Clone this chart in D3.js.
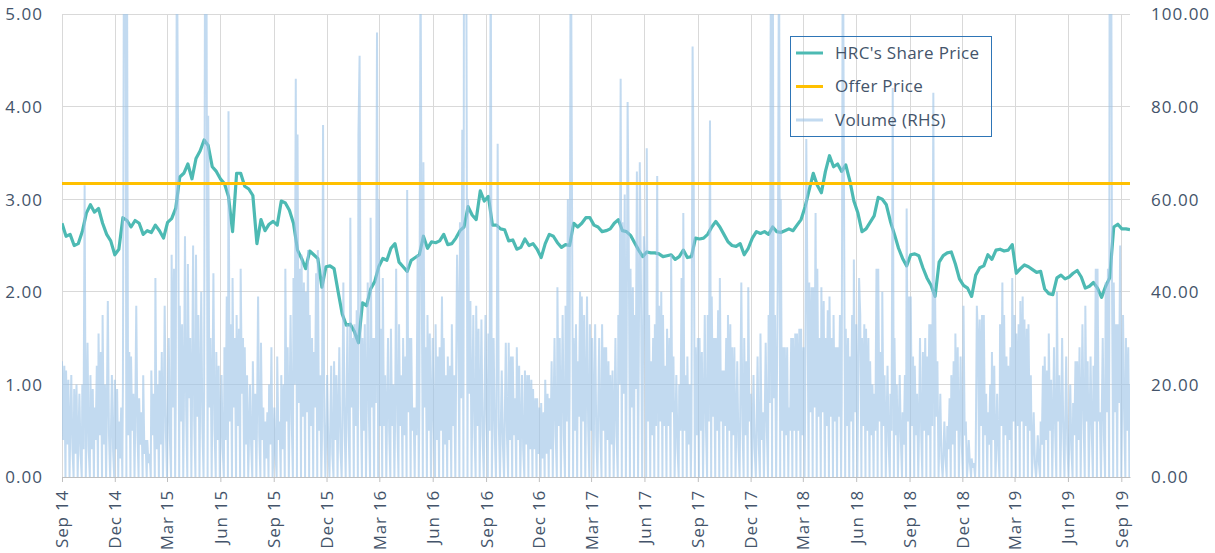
<!DOCTYPE html>
<html><head><meta charset="utf-8">
<script src="https://cdn.jsdelivr.net/npm/d3@7"></script>
<style>
body{margin:0;background:#fff;}
text{font-family:"Open Sans","Segoe UI",Lato,sans-serif;}
</style>
</head><body>
<svg id="chart" width="1215" height="553"></svg>
<script>
// ---------- data ----------
const startDate = "2014-09-01";   // first Monday of the data
const endDate = "2019-09-16";
const tickLabels = ["Sep 14","Dec 14","Mar 15","Jun 15","Sep 15","Dec 15","Mar 16","Jun 16","Sep 16","Dec 16",
  "Mar 17","Jun 17","Sep 17","Dec 17","Mar 18","Jun 18","Sep 18","Dec 18","Mar 19","Jun 19","Sep 19"];
const leftTicks = [0,1,2,3,4,5];
const rightTicks = [0,20,40,60,80,100];
const seriesNames = ["HRC's Share Price","Offer Price","Volume (RHS)"];
const offerPrice = 3.17;

// HRC's share price, one reading per week (Mondays from startDate)
const priceValues = [
2.74,2.60,2.62,2.50,2.52,2.65,2.85,2.94,2.86,2.90,
2.74,2.62,2.55,2.40,2.46,2.80,2.77,2.70,2.77,2.74,
2.62,2.66,2.64,2.72,2.66,2.58,2.75,2.79,2.90,3.24,
3.28,3.38,3.22,3.44,3.52,3.64,3.58,3.35,3.30,3.22,
3.17,3.03,2.65,3.28,3.28,3.14,3.11,3.04,2.52,2.78,
2.66,2.73,2.76,2.72,2.98,2.96,2.88,2.74,2.45,2.36,
2.25,2.44,2.40,2.36,2.05,2.27,2.28,2.25,2.00,1.76,
1.64,1.65,1.57,1.45,1.88,1.85,2.03,2.11,2.27,2.36,
2.34,2.47,2.52,2.32,2.27,2.22,2.34,2.37,2.40,2.60,
2.47,2.54,2.53,2.55,2.62,2.51,2.52,2.58,2.66,2.70,
2.92,2.83,2.78,3.09,2.98,3.03,2.72,2.72,2.68,2.67,
2.55,2.56,2.46,2.48,2.57,2.50,2.52,2.46,2.37,2.52,
2.62,2.60,2.53,2.48,2.51,2.50,2.74,2.70,2.74,2.80,
2.80,2.72,2.70,2.65,2.66,2.68,2.74,2.78,2.66,2.65,
2.61,2.53,2.45,2.38,2.43,2.42,2.42,2.41,2.38,2.39,
2.40,2.35,2.38,2.45,2.37,2.38,2.58,2.57,2.58,2.62,
2.70,2.76,2.70,2.62,2.54,2.50,2.49,2.52,2.40,2.47,
2.58,2.65,2.63,2.65,2.62,2.70,2.65,2.64,2.66,2.68,
2.66,2.72,2.78,2.92,3.10,3.28,3.15,3.07,3.30,3.47,
3.35,3.38,3.30,3.37,3.20,2.98,2.85,2.65,2.68,2.75,
2.82,3.02,3.00,2.94,2.76,2.62,2.47,2.36,2.28,2.40,
2.41,2.39,2.26,2.15,2.07,1.95,2.32,2.39,2.42,2.43,
2.30,2.14,2.07,2.04,1.95,2.18,2.26,2.28,2.40,2.35,
2.45,2.46,2.44,2.45,2.51,2.20,2.25,2.29,2.27,2.24,
2.21,2.22,2.03,1.98,1.97,2.15,2.18,2.14,2.16,2.20,
2.23,2.16,2.04,2.06,2.10,2.04,1.94,2.06,2.15,2.70,
2.73,2.68,2.68,2.67
];

// Volume (RHS): per week Mon, Wed, Fri readings and the Sunday (no trading) zero
const volumeDayOffsets = [0,2,4,6];
const volumeValues = [
25,8,24,0, 23,7,21,0, 8,22,6,0, 19,5,20,0,
6,18,5,0, 20,6,63,0, 7,29,6,0, 22,6,19,0,
15,8,24,0, 31,9,27,0, 35,7,20,0, 10,38,9,0,
7,22,6,0, 21,6,19,0, 12,4,15,0, 20,130,150,0,
115,9,27,0, 26,10,18,0, 9,37,10,0, 17,7,14,0,
22,5,8,0, 8,3,5,0, 23,9,18,0, 43,6,20,0,
23,7,27,0, 9,37,10,0, 10,30,8,0, 48,15,45,0,
16,120,75,0, 37,12,33,0, 13,52,15,0, 46,17,30,0,
14,50,12,0, 48,13,35,0, 14,40,11,0, 18,140,115,0,
78,15,30,0, 13,44,10,0, 27,8,24,0, 7,22,6,0,
28,8,39,0, 79,12,33,0, 43,15,30,0, 35,11,32,0,
45,18,30,0, 28,7,22,0, 6,20,7,0, 25,8,18,0,
10,39,9,0, 29,8,15,0, 12,4,14,0, 20,7,28,0,
3,15,5,0, 26,8,12,0, 22,6,20,0, 45,12,28,0,
11,35,12,0, 43,20,86,0, 74,16,45,0, 48,13,42,0,
40,14,49,0, 35,11,30,0, 27,15,44,0, 49,10,22,0,
8,76,12,0, 6,22,7,0, 7,24,5,0, 25,8,22,0,
10,28,6,0, 8,42,12,0, 12,33,10,0, 56,15,30,0,
33,11,36,0, 74,91,16,0, 30,10,33,0, 11,42,14,0,
56,15,30,0, 30,16,96,0, 60,11,32,0, 43,11,22,0,
10,30,10,0, 32,11,20,0, 10,45,12,0, 33,11,22,0,
30,9,26,0, 62,14,30,0, 30,10,15,0, 15,9,48,0,
15,115,45,0, 68,15,28,0, 35,10,31,0, 9,30,10,0,
33,8,26,0, 28,10,39,0, 30,7,22,0, 26,8,24,0,
33,11,22,0, 16,48,35,0, 55,17,75,0, 130,140,110,0,
60,18,38,0, 12,35,10,0, 37,11,32,0, 11,34,9,0,
11,35,12,0, 31,10,120,0, 10,30,9,0, 15,72,11,0,
8,23,7,0, 10,29,9,0, 29,8,26,0, 26,9,17,0,
28,8,24,0, 7,22,6,0, 23,7,22,0, 22,6,21,0,
19,6,17,0, 17,5,15,0, 16,4,14,0, 21,5,18,0,
17,6,25,0, 10,30,9,0, 41,11,30,0, 12,35,9,0,
37,12,60,0, 18,130,65,0, 30,10,33,0, 25,13,40,0,
39,12,35,0, 12,39,11,0, 33,10,30,0, 11,33,9,0,
11,30,10,0, 33,10,28,0, 28,8,25,0, 22,7,23,0,
10,30,9,0, 35,20,86,0, 55,18,61,0, 16,81,50,0,
45,15,41,0, 35,19,66,0, 20,68,42,0, 16,52,45,0,
71,12,35,0, 25,9,30,0, 33,11,65,0, 37,12,40,0,
35,11,24,0, 32,11,30,0, 48,14,26,0, 7,22,6,0,
20,10,43,0, 57,10,22,0, 26,7,20,0, 10,93,62,0,
28,9,30,0, 30,10,27,0, 10,35,11,0, 35,12,77,0,
39,13,30,0, 30,10,36,0, 43,12,23,0, 23,11,30,0,
35,10,33,0, 28,9,28,0, 8,25,7,0, 12,42,11,0,
30,9,25,0, 41,12,18,0, 7,22,6,0, 8,26,7,0,
31,8,14,0, 9,29,10,0, 35,16,115,0, 130,17,35,0,
15,45,120,0, 60,10,28,0, 28,9,28,0, 15,10,30,0,
30,10,31,0, 31,10,32,0, 32,9,28,0, 14,73,40,0,
42,14,41,0, 41,15,57,0, 45,13,30,0, 41,14,38,0,
30,11,36,0, 39,13,30,0, 35,12,28,0, 28,13,35,0,
16,130,61,0, 32,11,30,0, 26,12,35,0, 47,14,33,0,
13,43,35,0, 30,11,33,0, 32,10,30,0, 25,9,20,0,
18,10,45,0, 45,12,27,0, 40,11,22,0, 8,24,7,0,
18,10,84,0, 30,9,20,0, 8,22,8,0, 14,7,22,0,
58,12,39,0, 39,11,26,0, 24,9,18,0, 8,30,10,0,
27,10,30,0, 26,9,33,0, 33,11,83,0, 40,13,25,0,
6,18,4,0, 3,12,4,0, 11,6,17,0, 22,7,25,0,
31,10,28,0, 8,26,7,0, 37,9,12,0, 2,8,3,0,
4,2,3,0, 4,37,30,0, 34,11,35,0, 35,9,18,0,
14,7,20,0, 27,8,24,0, 4,18,6,0, 33,11,42,0,
35,9,26,0, 24,8,28,0, 43,12,35,0, 31,11,33,0,
38,12,39,0, 34,11,32,0, 33,10,22,0, 4,14,3,0,
2,9,3,0, 12,7,24,0, 26,8,23,0, 31,10,21,0,
8,28,10,0, 40,12,22,0, 8,30,10,0, 9,26,7,0,
6,20,6,0, 16,9,25,0, 25,8,28,0, 11,33,12,0,
37,12,25,0, 8,26,10,0, 24,12,45,0, 45,12,14,0,
10,30,9,0, 42,14,45,0, 130,150,42,0, 42,14,33,0,
33,16,50,0, 10,35,13,0, 30,10,28,0,
20
];

// ---------- chart ----------
const colors = {price:"#4DBAB3", offer:"#FFC000", volume:"#9DC3E6", grid:"#D9D9D9", text:"#44546A", legend:"#2E75B6"};
const plot = {left:62, right:1130, top:14, bottom:477};
const parseDay = d3.utcParse("%Y-%m-%d");
const parseTick = d3.utcParse("%b %y");
const t0 = parseDay(startDate), t1 = parseDay(endDate);

const x = d3.scaleUtc().domain([t0, t1]).range([plot.left, plot.right]);
const yL = d3.scaleLinear().domain([0,5]).range([plot.bottom, plot.top]);
const yR = d3.scaleLinear().domain([0,100]).range([plot.bottom, plot.top]);

const priceData = priceValues.map((v,i)=>({date:d3.utcDay.offset(t0, 7*i), v}));
const volumeData = volumeValues.map((v,i)=>({
  date:d3.utcDay.offset(t0, 7*Math.floor(i/4) + volumeDayOffsets[i%4]), v}));
const tickDates = tickLabels.map(s=>parseTick(s));

const svg = d3.select("#chart");
svg.append("defs").append("clipPath").attr("id","clip")
  .append("rect").attr("x",plot.left).attr("y",plot.top)
  .attr("width",plot.right-plot.left).attr("height",plot.bottom-plot.top);

// gridlines
svg.append("g").selectAll("line").data(leftTicks).join("line")
  .attr("x1",plot.left).attr("x2",plot.right)
  .attr("y1",d=>yL(d)).attr("y2",d=>yL(d))
  .attr("stroke",colors.grid).attr("stroke-width",1).attr("shape-rendering","crispEdges");
svg.append("g").selectAll("line").data(tickDates).join("line")
  .attr("x1",d=>Math.round(x(d))+0.5).attr("x2",d=>Math.round(x(d))+0.5)
  .attr("y1",plot.top).attr("y2",plot.bottom)
  .attr("stroke",colors.grid).attr("stroke-width",1);

// x axis
const xAxis = d3.axisBottom(x).tickValues(tickDates).tickFormat(d3.utcFormat("%b %y")).tickSize(5).tickSizeOuter(0);
const gx = svg.append("g").attr("transform",`translate(0,${plot.bottom})`).call(xAxis);
gx.select(".domain").attr("stroke","#BFBFBF");
gx.selectAll(".tick line").attr("stroke","#BFBFBF");
gx.selectAll(".tick text")
  .attr("transform","rotate(-90)").attr("x",-13).attr("y",0).attr("dy","0.35em")
  .style("text-anchor","end").style("font-size","17px").style("letter-spacing","0.8px")
  .attr("fill",colors.text);

// left axis labels
const gl = svg.append("g").attr("transform",`translate(${plot.left-19},0)`)
  .call(d3.axisLeft(yL).tickValues(leftTicks).tickFormat(d3.format(".2f")).tickSize(0));
gl.select(".domain").remove();
gl.selectAll("text").attr("x",0).attr("dy","0.35em").attr("fill",colors.text)
  .style("font-size","17px").style("letter-spacing","1px");

// right axis labels
const gr = svg.append("g").attr("transform",`translate(${plot.right+21},0)`)
  .call(d3.axisRight(yR).tickValues(rightTicks).tickFormat(d3.format(".2f")).tickSize(0));
gr.select(".domain").remove();
gr.selectAll("text").attr("x",0).attr("dy","0.35em").attr("fill",colors.text)
  .style("font-size","17px").style("letter-spacing","1px");

// price line
svg.append("path").datum(priceData)
  .attr("d", d3.line().x(d=>x(d.date)).y(d=>yL(d.v)))
  .attr("fill","none").attr("stroke",colors.price).attr("stroke-width",3.2)
  .attr("stroke-linejoin","round").attr("clip-path","url(#clip)");

// volume line (RHS)
svg.append("path").datum(volumeData)
  .attr("d", d3.line().x(d=>x(d.date)).y(d=>yR(d.v)))
  .attr("fill","none").attr("stroke",colors.volume).attr("stroke-opacity",0.62)
  .attr("stroke-width",2).attr("stroke-linejoin","miter").attr("clip-path","url(#clip)");

// offer price line
svg.append("line")
  .attr("x1",x(t0)).attr("x2",x(t1)).attr("y1",yL(offerPrice)).attr("y2",yL(offerPrice))
  .attr("stroke",colors.offer).attr("stroke-width",3);

// legend
const lg = svg.append("g");
lg.append("rect").attr("x",790.5).attr("y",36.5).attr("width",201).attr("height",100)
  .attr("fill","none").attr("stroke",colors.legend).attr("stroke-width",1);
const legendItems = [
  {name:seriesNames[0], color:colors.price, op:1, w:3},
  {name:seriesNames[1], color:colors.offer, op:1, w:3},
  {name:seriesNames[2], color:colors.volume, op:0.62, w:3}
];
const li = lg.selectAll("g.item").data(legendItems).join("g")
  .attr("transform",(d,i)=>`translate(0,${53 + i*33.5})`);
li.append("line").attr("x1",796).attr("x2",823).attr("y1",0).attr("y2",0)
  .attr("stroke",d=>d.color).attr("stroke-opacity",d=>d.op).attr("stroke-width",d=>d.w);
li.append("text").attr("x",835).attr("y",0).attr("dy","0.35em")
  .attr("fill",colors.text).style("font-size","17px").style("letter-spacing","0.3px")
  .text(d=>d.name);
</script>
</body></html>
